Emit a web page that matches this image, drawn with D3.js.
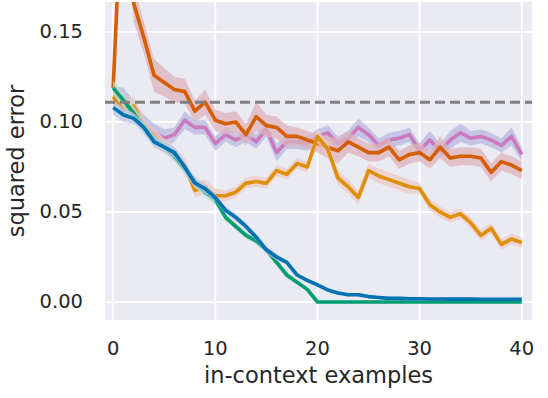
<!DOCTYPE html>
<html>
<head>
<meta charset="utf-8">
<script src="https://cdn.jsdelivr.net/npm/d3@7"></script>
<style>
  html, body { margin: 0; padding: 0; background: #ffffff; }
  svg text { font-family: "DejaVu Sans", sans-serif; fill: #262626; }
</style>
</head>
<body>
<div id="chart"></div>
<script>

// in-context examples 0..40
var steps = d3.range(0, 41);

var xTicks = [0, 10, 20, 30, 40];
var yTicks = [0.00, 0.05, 0.10, 0.15];

var refLevel = 0.111;

// mean squared error per series
var errPink = [0.115, 0.113, 0.107, 0.099, 0.094, 0.091, 0.093, 0.101, 0.097, 0.097,
               0.088, 0.093, 0.090, 0.093, 0.089, 0.096, 0.083, 0.089, 0.089, 0.088,
               0.092, 0.094, 0.088, 0.091, 0.097, 0.093, 0.087, 0.090, 0.091, 0.093,
               0.084, 0.090, 0.084, 0.090, 0.094, 0.091, 0.092, 0.090, 0.087, 0.092, 0.082];

var errRed = [0.119, 0.245, 0.166, 0.147, 0.126, 0.122, 0.118, 0.117, 0.106, 0.111,
              0.101, 0.099, 0.100, 0.093, 0.103, 0.098, 0.097, 0.092, 0.092, 0.090,
              0.088, 0.086, 0.084, 0.089, 0.086, 0.083, 0.083, 0.086, 0.079, 0.082,
              0.083, 0.079, 0.086, 0.080, 0.081, 0.081, 0.080, 0.072, 0.078, 0.076, 0.073];

var errOrange = [0.114, 0.107, 0.109, 0.098, 0.092, 0.087, 0.082, 0.076, 0.062, 0.064,
                 0.059, 0.059, 0.061, 0.066, 0.067, 0.066, 0.073, 0.071, 0.077, 0.075,
                 0.092, 0.085, 0.069, 0.064, 0.058, 0.073, 0.070, 0.068, 0.066, 0.064,
                 0.063, 0.054, 0.050, 0.047, 0.049, 0.044, 0.037, 0.041, 0.032, 0.035, 0.033];

var errGreen = [0.119, 0.112, 0.105, 0.097, 0.090, 0.086, 0.081, 0.074, 0.067, 0.061,
                0.057, 0.047, 0.042, 0.037, 0.034, 0.029, 0.022, 0.015, 0.011, 0.007,
                0, 0, 0, 0, 0, 0, 0, 0, 0, 0,
                0, 0, 0, 0, 0, 0, 0, 0, 0, 0, 0];

var errBlue = [0.108, 0.104, 0.102, 0.097, 0.089, 0.086, 0.083, 0.075, 0.066, 0.063,
               0.058, 0.051, 0.047, 0.042, 0.036, 0.029, 0.025, 0.022, 0.015, 0.012,
               0.0095, 0.0067, 0.005, 0.004, 0.004, 0.003, 0.0025, 0.002, 0.002, 0.0018,
               0.0018, 0.0017, 0.0017, 0.0016, 0.0016, 0.0016, 0.0015, 0.0015, 0.0015, 0.0015, 0.0015];

// half-width of the shaded band
var sdPink = [0.005, 0.006, 0.005, 0.005, 0.005, 0.005, 0.004, 0.005, 0.004, 0.004,
              0.004, 0.004, 0.004, 0.004, 0.004, 0.004, 0.005, 0.004, 0.004, 0.004,
              0.004, 0.004, 0.004, 0.004, 0.005, 0.004, 0.004, 0.004, 0.004, 0.004,
              0.004, 0.005, 0.004, 0.005, 0.005, 0.004, 0.004, 0.004, 0.004, 0.005, 0.004];

var sdRed = [0.003, 0.012, 0.010, 0.009, 0.009, 0.008, 0.007, 0.007, 0.006, 0.007,
             0.006, 0.006, 0.006, 0.006, 0.008, 0.006, 0.006, 0.006, 0.005, 0.005,
             0.005, 0.006, 0.007, 0.006, 0.005, 0.005, 0.005, 0.005, 0.005, 0.005,
             0.005, 0.005, 0.006, 0.005, 0.005, 0.005, 0.005, 0.005, 0.005, 0.005, 0.005];

var sdOrange = [0.005, 0.005, 0.005, 0.004, 0.004, 0.004, 0.004, 0.004, 0.004, 0.004,
                0.004, 0.003, 0.003, 0.003, 0.003, 0.003, 0.003, 0.003, 0.003, 0.003,
                0.004, 0.004, 0.004, 0.004, 0.004, 0.004, 0.004, 0.004, 0.004, 0.004,
                0.003, 0.003, 0.003, 0.003, 0.003, 0.003, 0.003, 0.003, 0.003, 0.003, 0.003];

var sdGreen = [0.004, 0.004, 0.004, 0.004, 0.003, 0.003, 0.003, 0.003, 0.003, 0.003,
               0.003, 0.002, 0.002, 0.002, 0.002, 0.002, 0.002, 0.002, 0.001, 0.001,
               0, 0, 0, 0, 0, 0, 0, 0, 0, 0,
               0, 0, 0, 0, 0, 0, 0, 0, 0, 0, 0];

var sdBlue = [0.004, 0.004, 0.003, 0.003, 0.003, 0.003, 0.003, 0.003, 0.003, 0.003,
              0.002, 0.002, 0.002, 0.002, 0.002, 0.002, 0.002, 0.001, 0.001, 0.001,
              0.001, 0.001, 0.001, 0.001, 0.001, 0.001, 0.001, 0.001, 0.001, 0.001,
              0.001, 0.001, 0.001, 0.001, 0.001, 0.001, 0.001, 0.001, 0.001, 0.001, 0.001];

var series = [
  { values: errPink,   spread: sdPink,   color: '#cc78bc', band: '#b9b7e0' },
  { values: errRed,    spread: sdRed,    color: '#d55e00', band: '#ddb2bb' },
  { values: errOrange, spread: sdOrange, color: '#de8f05', band: '#efcac4' },
  { values: errGreen,  spread: sdGreen,  color: '#029e73', band: '#b8dcca' },
  { values: errBlue,   spread: sdBlue,   color: '#0173b2', band: '#bcc6e4' }
];

var widthCont = 548,
    heightCont = 398;

var plot = {left: 105, right: 532, top: 2, bottom: 320};

var svg = d3.select('#chart').append('svg')
  .attr('width', widthCont)
  .attr('height', heightCont);

var x = d3.scaleLinear().domain([-0.8, 41]).range([plot.left, plot.right]);
var y = d3.scaleLinear().domain([-0.01, 0.16667]).range([plot.bottom, plot.top]);

// Background + grid
svg.append('rect')
  .attr('x', plot.left).attr('y', plot.top)
  .attr('width', plot.right - plot.left)
  .attr('height', plot.bottom - plot.top)
  .attr('fill', '#eaeaf2');

svg.append('defs').append('clipPath').attr('id', 'clip')
  .append('rect')
  .attr('x', plot.left).attr('y', plot.top)
  .attr('width', plot.right - plot.left)
  .attr('height', plot.bottom - plot.top);

svg.append('g').selectAll('line').data(xTicks).enter().append('line')
  .attr('x1', function(d){ return x(d); }).attr('x2', function(d){ return x(d); })
  .attr('y1', plot.top).attr('y2', plot.bottom)
  .attr('stroke', '#ffffff').attr('stroke-width', 1.8);

svg.append('g').selectAll('line').data(yTicks).enter().append('line')
  .attr('x1', plot.left).attr('x2', plot.right)
  .attr('y1', function(d){ return y(d); }).attr('y2', function(d){ return y(d); })
  .attr('stroke', '#ffffff').attr('stroke-width', 1.8);

// Tick labels
svg.append('g').selectAll('text').data(xTicks).enter().append('text')
  .attr('x', function(d){ return x(d); })
  .attr('y', 355)
  .attr('text-anchor', 'middle')
  .style('font-size', '19.5px')
  .text(function(d){ return d; });

svg.append('g').selectAll('text').data(yTicks).enter().append('text')
  .attr('x', 83)
  .attr('y', function(d){ return y(d) + 6; })
  .attr('text-anchor', 'end')
  .style('font-size', '19.5px')
  .text(function(d){ return d3.format('.2f')(d); });

// Axis titles
svg.append('text')
  .attr('x', (plot.left + plot.right) / 2)
  .attr('y', 383)
  .attr('text-anchor', 'middle')
  .style('font-size', '22.5px')
  .text('in-context examples');

svg.append('text')
  .attr('transform', 'translate(24,' + ((plot.top + plot.bottom) / 2) + ') rotate(-90)')
  .attr('text-anchor', 'middle')
  .style('font-size', '22.5px')
  .text('squared error');

// Lines and bands
var layer = svg.append('g').attr('clip-path', 'url(#clip)');

var area = d3.area()
  .x(function(d){ return x(d.step); })
  .y0(function(d){ return y(d.v - d.s); })
  .y1(function(d){ return y(d.v + d.s); });

var line = d3.line()
  .x(function(d){ return x(d.step); })
  .y(function(d){ return y(d.v); });

series.forEach(function(s){

  var pts = steps.map(function(step, i){ return {step: step, v: s.values[i], s: s.spread[i]}; });

  layer.append('path')
    .datum(pts)
    .attr('d', area)
    .attr('fill', s.band)
    .attr('fill-opacity', 0.75);

  layer.append('path')
    .datum(pts)
    .attr('d', line)
    .attr('fill', 'none')
    .attr('stroke', s.color)
    .attr('stroke-width', 3.6)
    .attr('stroke-linejoin', 'round');
});

// Reference level
layer.append('line')
  .attr('x1', plot.left).attr('x2', plot.right)
  .attr('y1', y(refLevel)).attr('y2', y(refLevel))
  .attr('stroke', '#808080')
  .attr('stroke-width', 3)
  .attr('stroke-dasharray', '10,5');

</script>
</body>
</html>
